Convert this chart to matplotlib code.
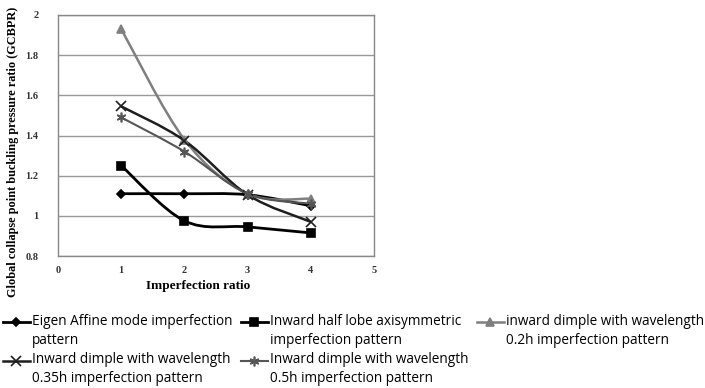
import matplotlib.pyplot as plt
from matplotlib.path import Path
from matplotlib.patches import PathPatch
from matplotlib.lines import Line2D
from matplotlib.legend_handler import HandlerLine2D

# imperfection ratio on the x axis
ratios = [1, 2, 3, 4]

eigen_affine = [1.11, 1.11, 1.105, 1.05]
half_lobe = [1.25, 0.975, 0.945, 0.915]
dimple_02h = [1.93, 1.38, 1.11, 1.085]
dimple_035h = [1.545, 1.375, 1.105, 0.97]
dimple_05h = [1.49, 1.32, 1.11, 1.06]

labels = [
    "Eigen Affine mode imperfection\npattern",
    "Inward half lobe axisymmetric\nimperfection pattern",
    "inward dimple with wavelength\n0.2h imperfection pattern",
    "Inward dimple with wavelength\n0.35h imperfection pattern",
    "Inward dimple with wavelength\n0.5h imperfection pattern",
]
y_ticks = [0.8, 1, 1.2, 1.4, 1.6, 1.8, 2]
y_tick_labels = ["0.8", "1", "1.2", "1.4", "1.6", "1.8", "2"]
x_ticks = [0, 1, 2, 3, 4, 5]


def smooth_path(xs, ys):
    # excel style smoothed line: cubic bezier through the points
    n = len(xs)
    verts = [(xs[0], ys[0])]
    codes = [Path.MOVETO]
    for i in range(n - 1):
        p0 = i - 1 if i > 0 else i
        p3 = i + 2 if i + 2 < n else i + 1
        c1 = (xs[i] + (xs[i + 1] - xs[p0]) / 6, ys[i] + (ys[i + 1] - ys[p0]) / 6)
        c2 = (xs[i + 1] - (xs[p3] - xs[i]) / 6, ys[i + 1] - (ys[p3] - ys[i]) / 6)
        verts += [c1, c2, (xs[i + 1], ys[i + 1])]
        codes += [Path.CURVE4] * 3
    return Path(verts, codes)


class TopHandler(HandlerLine2D):
    # put the legend key next to the first line of a two line label
    def create_artists(self, legend, orig_handle, xdescent, ydescent,
                       width, height, fontsize, trans):
        return super().create_artists(legend, orig_handle, xdescent,
                                      ydescent - 1.4 * fontsize, width, height,
                                      fontsize, trans)


series = [
    (eigen_affine, "black", "D", 4, 2.0),
    (half_lobe, "black", "s", 6, 2.0),
    (dimple_02h, "#7f7f7f", "^", 6, 1.8),
    (dimple_035h, "#1e1e1e", "x", 7, 1.8),
    (dimple_05h, "#555555", (6, 2, 0), 7, 1.5),
]

fig = plt.figure(figsize=(7.05, 3.88), dpi=100)
ax = fig.add_axes([58 / 705, 1 - 256 / 388, 316 / 705, 241 / 388])

handles = []
for (vals, color, marker, ms, lw), lab in zip(series, labels):
    ax.add_patch(PathPatch(smooth_path(ratios, vals), facecolor="none",
                           edgecolor=color, lw=lw, zorder=3))
    ax.plot(ratios, vals, ls="none", marker=marker, ms=ms, color=color,
            mec=color, mew=1.2, zorder=4)
    handles.append(Line2D([], [], color=color, lw=lw, marker=marker, ms=ms,
                          mec=color, mew=1.2, label=lab))

ax.set_xlim(0, 5)
ax.set_ylim(0.8, 2)
ax.set_yticks(y_ticks)
ax.set_yticklabels(y_tick_labels)
ax.set_xticks(x_ticks)
ax.tick_params(length=0, labelsize=7.5, labelcolor="#333333")
ax.tick_params(axis="x", pad=7)
ax.tick_params(axis="y", pad=14)
for lab in ax.get_xticklabels() + ax.get_yticklabels():
    lab.set_fontfamily("Liberation Serif")
    lab.set_fontweight("bold")
ax.grid(axis="y", color="#999999", lw=1)
ax.set_axisbelow(True)
for sp in ax.spines.values():
    sp.set_color("#888888")
    sp.set_linewidth(1)

fig.text(198 / 705, 1 - 286 / 388, "Imperfection ratio", ha="center", va="center",
         fontsize=9.5, fontweight="bold", family="Liberation Serif")
fig.text(13 / 705, 1 - 152 / 388,
         "Global collapse point buckling pressure ratio (GCBPR)",
         rotation=90, ha="center", va="center", fontsize=8.8,
         fontweight="bold", family="Liberation Serif")

# legend is filled column-wise, reorder so it reads row by row
order = [0, 3, 1, 4, 2]
leg = fig.legend([handles[i] for i in order], [labels[i] for i in order],
                 loc="upper left", bbox_to_anchor=(0.0, 1 - 311 / 388), ncol=3,
                 frameon=False,
                 prop={"family": "Open Sans", "size": 9.8},
                 handlelength=2.0, handletextpad=0.15, columnspacing=0.6,
                 labelspacing=0.35, borderaxespad=0, borderpad=0.2,
                 handler_map={Line2D: TopHandler()})
for t in leg.get_texts():
    t.set_linespacing(1.36)

fig.savefig("out.png", dpi=100, facecolor="white")
